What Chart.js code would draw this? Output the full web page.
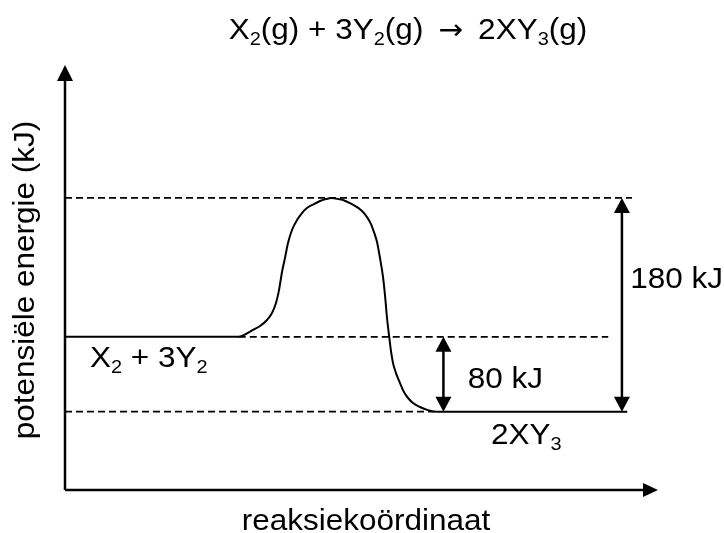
<!DOCTYPE html>
<html><head><meta charset="utf-8">
<script src="https://cdn.jsdelivr.net/npm/chart.js@4/dist/chart.umd.min.js"></script>
<style>html,body{margin:0;padding:0;background:#fff}#wrap{width:724px;height:533px;position:relative}</style>
</head><body><div id="wrap"><canvas id="c"></canvas></div>
<script>
// Reaction coordinate (schematic units 0-100) and potential energy (schematic, products = 0, peak = 180)
const reactionCoord = [0, 29.24, 30.42, 31.60, 32.77, 33.95, 34.79, 35.46, 35.97, 36.47, 36.97, 37.48, 38.15, 38.99, 39.83, 40.67, 41.85, 42.86, 43.87, 44.87, 45.88, 46.72, 47.90, 49.08, 49.92, 50.76, 51.43, 51.93, 52.44, 52.94, 53.45, 53.78, 54.12, 54.49, 54.80, 55.13, 55.63, 56.30, 56.97, 57.65, 58.49, 59.66, 61.01, 62.52, 94.5];
const potentialEnergy = [63, 63, 65.4, 68.8, 72.1, 77.2, 83.1, 91.5, 102.4, 117.6, 129.4, 142.0, 153.0, 161.4, 167.3, 171.5, 174.9, 177.4, 179.1, 180, 179.1, 178.3, 175.7, 172.3, 169.0, 163.9, 158.0, 151.2, 142.9, 129.4, 113.4, 98.2, 78.9, 63, 50.5, 40.9, 32.5, 24.1, 16.5, 11.5, 7.3, 3.9, 1.3, 0, 0];
const reactantLevel = 63;
const productLevel = 0;
const peakLevel = 180;
const reactantLabel = [['X',0],['2',1],[' + 3Y',0],['2',1]];
const productLabel = [['2XY',0],['3',1]];
const titleParts = [['X',0],['2',1],['(g) + 3Y',0],['2',1],['(g) \u2009',0],['\u2192',2],['\u2009 2XY',0],['3',1],['(g)',0]];
const deltaLabels = ['180 kJ', '80 kJ'];
const xTitle = 'reaksiekoördinaat';
const yTitle = 'potensiële energie (kJ)';

const FONT = 'Liberation Sans, Arial, sans-serif';
const FS = 30, SUB = 19, SX = 1.05;
function fontFor(t) { return t === 1 ? SUB + 'px ' + FONT : t === 2 ? '28px "DejaVu Sans"' : FS + 'px ' + FONT; }

function drawRich(ctx, parts, x, y, align) {
  ctx.save();
  ctx.textBaseline = 'alphabetic';
  ctx.textAlign = 'left';
  let w = 0;
  parts.forEach(p => { ctx.font = fontFor(p[1]); w += ctx.measureText(p[0]).width; });
  ctx.translate(x, y);
  ctx.scale(SX, 1);
  let cx = align === 'center' ? -w / 2 : 0;
  parts.forEach(p => {
    ctx.font = fontFor(p[1]);
    ctx.fillText(p[0], cx, p[1] === 1 ? 6 : 0);
    cx += ctx.measureText(p[0]).width;
  });
  ctx.restore();
}

function arrowHead(ctx, tx, ty, dir, len, half) {
  ctx.beginPath();
  if (dir === 'up') { ctx.moveTo(tx, ty); ctx.lineTo(tx - half, ty + len); ctx.lineTo(tx + half, ty + len); }
  else if (dir === 'down') { ctx.moveTo(tx, ty); ctx.lineTo(tx - half, ty - len); ctx.lineTo(tx + half, ty - len); }
  else if (dir === 'right') { ctx.moveTo(tx, ty); ctx.lineTo(tx - len, ty - half); ctx.lineTo(tx - len, ty + half); }
  ctx.closePath();
  ctx.fill();
}

const diagramPlugin = {
  id: 'diagram',
  afterDatasetsDraw(chart) {
    const ctx = chart.ctx, xs = chart.scales.x, ys = chart.scales.y, a = chart.chartArea;
    const X = v => xs.getPixelForValue(v), Y = v => ys.getPixelForValue(v);
    ctx.save();
    ctx.fillStyle = '#000'; ctx.strokeStyle = '#000';
    // axes
    ctx.lineWidth = 2.5;
    ctx.beginPath();
    ctx.moveTo(a.left, a.bottom); ctx.lineTo(a.left, a.top + 14);
    ctx.moveTo(a.left, a.bottom); ctx.lineTo(a.right - 16, a.bottom);
    ctx.stroke();
    arrowHead(ctx, a.left, a.top, 'up', 16, 8);
    arrowHead(ctx, a.right - 2, a.bottom, 'right', 15, 7);
    // dashed levels
    ctx.lineWidth = 1.8;
    ctx.setLineDash([7, 4]);
    ctx.beginPath();
    ctx.moveTo(X(0), Y(peakLevel)); ctx.lineTo(X(95.3), Y(peakLevel));
    ctx.moveTo(X(29.2), Y(reactantLevel)); ctx.lineTo(X(91.3), Y(reactantLevel));
    ctx.moveTo(X(0), Y(productLevel)); ctx.lineTo(X(62.5), Y(productLevel));
    ctx.stroke();
    ctx.setLineDash([]);
    // double arrows
    ctx.lineWidth = 2.5;
    [[93.6, peakLevel, productLevel], [63.6, reactantLevel, productLevel]].forEach(([u, hi, lo]) => {
      const x = X(u), y1 = Y(hi), y2 = Y(lo);
      ctx.beginPath(); ctx.moveTo(x, y1 + 12); ctx.lineTo(x, y2 - 12); ctx.stroke();
      arrowHead(ctx, x, y1, 'up', 15, 8);
      arrowHead(ctx, x, y2, 'down', 15, 8);
    });
    // labels
    drawRich(ctx, [[deltaLabels[0], 0]], X(95.0), Y(104), 'left');
    drawRich(ctx, [[deltaLabels[1], 0]], X(67.7), Y(20), 'left');
    drawRich(ctx, reactantLabel, X(4.2), Y(38), 'left');
    drawRich(ctx, productLabel, X(71.6), Y(-27), 'left');
    // titles
    drawRich(ctx, titleParts, 408, 39, 'center');
    drawRich(ctx, [[xTitle, 0]], 366, 530, 'center');
    ctx.save();
    ctx.translate(34, 280);
    ctx.rotate(-Math.PI / 2);
    drawRich(ctx, [[yTitle, 0]], 0, 0, 'center');
    ctx.restore();
    ctx.restore();
  }
};

new Chart(document.getElementById('c'), {
  type: 'line',
  data: {
    datasets: [{
      data: reactionCoord.map((x, i) => ({ x, y: potentialEnergy[i] })),
      borderColor: '#000', borderWidth: 2, pointRadius: 0, fill: false,
      cubicInterpolationMode: 'monotone'
    }]
  },
  options: {
    responsive: true, maintainAspectRatio: false, animation: false,
    layout: { padding: { left: 65, right: 64, top: 65, bottom: 43 } },
    scales: {
      x: { type: 'linear', min: 0, max: 100, display: false },
      y: { type: 'linear', min: -66, max: 292, display: false }
    },
    plugins: { legend: { display: false }, tooltip: { enabled: false } }
  },
  plugins: [diagramPlugin]
});
</script></body></html>
